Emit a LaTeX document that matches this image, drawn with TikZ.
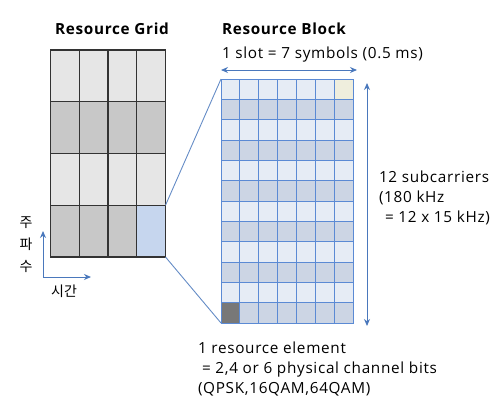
\documentclass[tikz,border=0pt]{standalone}
\usepackage{fontspec}
\setmainfont{Open Sans}[LetterSpace=4.5]
\newfontfamily\krfont{Noto Sans CJK KR}
\usetikzlibrary{positioning, arrows.meta}

\definecolor{gridlight}{HTML}{E6E6E6}
\definecolor{griddark}{HTML}{C8C8C8}
\definecolor{gridpick}{HTML}{C6D6EE}
\definecolor{blklight}{HTML}{E6ECF5}
\definecolor{blkdark}{HTML}{CCD5E4}
\definecolor{blkline}{HTML}{5B8AD4}
\definecolor{blkcorner}{HTML}{EFEEDD}
\definecolor{arrowblue}{HTML}{4A78BC}

\begin{document}
\begin{tikzpicture}
[
    x=1pt, y=-1pt, node distance=0pt,
    font=\fontsize{15.3}{20}\selectfont,
    % The strategy is to create cells with names: G-column-row (grid)
    % and B-column-row (block), columns and rows counted from 1
]

%=================================== Start ===================================
\tikzstyle{gcell} = [draw=black!80, line width=1.1pt, minimum width=28.75pt,
                     minimum height=51.75pt, inner sep=0pt, outer sep=0pt]
\tikzstyle{bcell} = [draw=blkline, line width=1pt, minimum width=18.857pt,
                     minimum height=20.333pt, inner sep=0pt, outer sep=0pt]
\tikzstyle{dim}   = [draw=arrowblue, line width=1pt, {Stealth[length=7pt,width=6pt]}-{Stealth[length=7pt,width=6pt]}]
\tikzstyle{axis}  = [draw=arrowblue, line width=1pt, -{Stealth[length=7pt,width=6pt]}]
\tikzstyle{zoom}  = [draw=arrowblue!85!white, line width=0.9pt]
\tikzstyle{lbl}   = [inner sep=0pt, outer sep=0pt, align=left]

\useasboundingbox (0,0) rectangle (502,407);

{
    % Resource grid: 4 columns, 4 rows, light and dark rows
    \foreach \y / \c in {1/gridlight, 2/griddark, 3/gridlight, 4/griddark}
        \foreach \x in {1,...,4}
            \node[gcell, fill=\c] (G-\x-\y)
                  at ({50.5+28.75*(\x-0.5)}, {50+51.75*(\y-0.5)}) {};
    \node[gcell, fill=gridpick] (G-4-4) at ({50.5+28.75*3.5}, {50+51.75*3.5}) {};

    % Resource block: 7 columns, 12 rows
    \foreach \y in {1,...,12}
        \foreach \x in {1,...,7} {
            \pgfmathsetmacro{\shade}{isodd(\y) ? "blklight" : "blkdark"}
            \node[bcell, fill=\shade] (B-\x-\y)
                  at ({221+18.857*(\x-0.5)}, {79+20.333*(\y-0.5)}) {};
        }
    \node[bcell, fill=blkcorner] (B-7-1) at ({221+18.857*6.5}, {79+20.333*0.5}) {};
    \node[bcell, fill=black!53] (B-1-12) at ({221+18.857*0.5}, {79+20.333*11.5}) {};

    % zoom lines from the picked cell to the block
    \path (G-4-4.north east) edge[zoom] (B-1-1.north west);
    \path (G-4-4.south east) edge[zoom] (B-1-12.south west);

    % dimension arrows
    \draw[dim] ([yshift=9pt]B-1-1.north west) -- ([xshift=4pt, yshift=9pt]B-7-1.north east);
    \draw[dim] ([xshift=14pt, yshift=-4pt]B-7-1.north east)
               -- ([xshift=14pt, yshift=-3pt]B-7-12.south east);

    % time / frequency axes
    \coordinate (O) at (43,277);
    \coordinate (F) at (43,231);
    \coordinate (T) at (91,277);
    \draw[axis] (O) -- (F);
    \draw[axis] (O) -- (T);

    % Labels
    \node[lbl, anchor=base] (title-grid) at (112,34) {\bfseries Resource Grid};
    \node[lbl, anchor=base west] (title-block) at (222,34) {\bfseries Resource Block};
    \node[lbl, anchor=base west] (slot) at (222,58) {1 slot = 7 symbols (0.5 ms)};
    \node[lbl, anchor=north west] (subc) at (379,171)
        {12 subcarriers\\(180 kHz\\\hspace{6pt}= 12 x 15 kHz)};
    \node[lbl, anchor=north west] (elem) at (198,342)
        {1 resource element\\\hspace{4pt}= 2,4 or 6 physical channel bits\\(QPSK,16QAM,64QAM)};
    \node[lbl, font=\krfont\fontsize{14}{22}\selectfont, anchor=center] (freq) at (26,245)
        {주\\파\\수};
    \node[lbl, font=\krfont\fontsize{14}{16}\selectfont, anchor=center] (time) at (64,291) {시간};
}
%==================================== END ====================================

\end{tikzpicture}
\end{document}
